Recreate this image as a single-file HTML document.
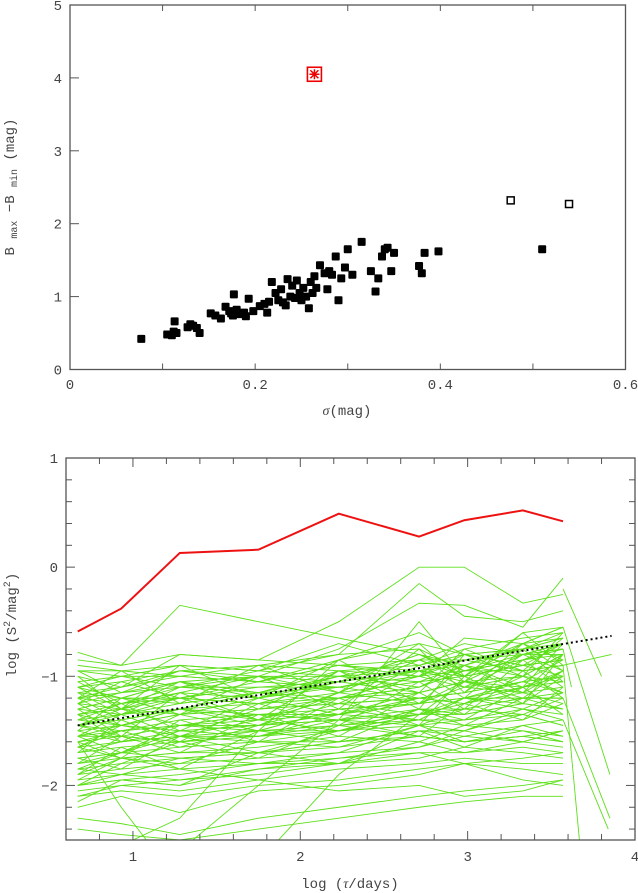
<!DOCTYPE html>
<html><head><meta charset="utf-8"><style>
html,body{margin:0;padding:0;background:#fff;}
svg{display:block;font-family:"Liberation Mono","DejaVu Sans Mono",monospace;}
text{fill:#444;font-size:14px;}
</style></head><body>
<svg id="fig" width="638" height="893" viewBox="0 0 638 893">
<g id="topPanel"></g>
<g id="botPanel"></g>
</svg>
<script>
const sigmaVals = [0.077,0.105,0.110,0.112,0.113,0.115,0.127,0.130,0.133,0.137,0.140,0.152,0.157,0.163,0.168,0.172,0.174,0.176,0.177,0.180,0.183,0.188,0.190,0.193,0.198,0.205,0.210,0.213,0.215,0.218,0.222,0.225,0.228,0.230,0.233,0.235,0.238,0.240,0.243,0.245,0.248,0.250,0.252,0.255,0.258,0.260,0.262,0.264,0.266,0.270,0.275,0.278,0.280,0.283,0.287,0.290,0.293,0.297,0.300,0.305,0.315,0.325,0.330,0.333,0.337,0.340,0.343,0.347,0.350,0.377,0.380,0.383,0.398,0.510];
const rangeVals = [0.42,0.48,0.47,0.52,0.66,0.50,0.58,0.62,0.60,0.57,0.50,0.77,0.74,0.70,0.86,0.80,0.77,0.74,1.03,0.82,0.76,0.78,0.73,0.97,0.80,0.87,0.90,0.78,0.93,1.20,1.05,0.95,1.10,0.92,0.88,1.24,1.00,1.15,0.98,1.22,1.05,0.95,1.12,1.00,0.84,1.20,1.05,1.28,1.12,1.43,1.32,1.10,1.35,1.30,1.55,0.95,1.25,1.40,1.65,1.30,1.75,1.35,1.07,1.25,1.55,1.65,1.67,1.35,1.60,1.42,1.32,1.60,1.62,1.65];
const openSigma = [0.476,0.539];
const openRange = [2.32,2.27];
const redSigma = [0.264];
const redRange = [4.05];
const topXTicks = [0,0.2,0.4,0.6];
const topXLabels = ["0","0.2","0.4","0.6"];
const topYTicks = [0,1,2,3,4,5];

const tauNodes = [0.67,0.93,1.28,1.75,2.23,2.71,2.98,3.33,3.57];
const redSF = [-0.59,-0.38,0.13,0.16,0.49,0.28,0.43,0.52,0.42];
const greenSF = [
[-0.78,-0.9,-0.35,-0.5,-0.65,-0.8,-0.9,-0.75,-0.6],
[-1.0,-1.1,-0.8,-0.85,-0.5,0.0,0.0,-0.33,-0.25],
[-1.2,-1.1,-0.95,-0.9,-0.8,-0.15,-0.45,-0.5,-0.4],
[-1.3,-1.2,-1.05,-1.0,-0.75,-0.33,-0.35,-0.55,-0.1],
[-0.85,-0.9,-0.8,-0.85,-0.9,-0.85,-0.85,-0.8,-0.7],
[-0.95,-0.95,-0.9,-0.95,-0.8,-0.75,-0.95,-0.85,-0.75],
[-1.05,-1.0,-1.0,-0.9,-0.95,-0.9,-0.8,-0.75,-0.65],
[-1.1,-1.05,-0.95,-1.0,-1.0,-0.85,-0.7,-0.8,-0.8],
[-1.15,-1.1,-1.0,-1.05,-0.9,-0.95,-0.9,-0.7,-0.55],
[-1.2,-1.15,-1.1,-1.0,-1.05,-0.8,-1.0,-0.9,-0.85],
[-1.25,-1.3,-1.05,-1.15,-1.0,-1.1,-0.95,-0.85,-0.7],
[-1.3,-1.2,-1.2,-1.1,-1.1,-1.0,-0.85,-0.95,-0.9],
[-1.35,-1.3,-1.15,-1.2,-1.05,-1.15,-1.05,-0.8,-0.95],
[-1.4,-1.35,-1.25,-1.15,-1.2,-1.0,-1.1,-1.0,-0.8],
[-1.45,-1.4,-1.3,-1.25,-1.15,-1.05,-1.0,-0.9,-1.0],
[-1.5,-1.45,-1.35,-1.3,-1.25,-1.2,-1.15,-1.05,-0.85],
[-1.55,-1.5,-1.4,-1.35,-1.3,-1.25,-1.1,-1.15,-1.1],
[-1.6,-1.55,-1.45,-1.4,-1.35,-1.2,-1.25,-1.1,-1.05],
[-1.65,-1.6,-1.5,-1.45,-1.4,-1.35,-1.3,-1.2,-1.2],
[-1.4,-1.45,-1.5,-1.45,-1.4,-1.3,-1.35,-1.25,-1.3],
[-1.3,-1.35,-1.3,-1.35,-1.35,-1.25,-1.2,-1.2,-1.15],
[-1.2,-1.25,-1.2,-1.25,-1.2,-1.15,-1.05,-1.1,-0.95],
[-1.5,-1.6,-1.55,-1.5,-1.45,-1.4,-1.4,-1.3,-1.35],
[-1.7,-1.65,-1.6,-1.55,-1.5,-1.45,-1.4,-1.35,-1.45],
[-1.75,-1.7,-1.65,-1.6,-1.6,-1.5,-1.55,-1.45,-1.4],
[-1.8,-1.75,-1.7,-1.65,-1.55,-1.6,-1.45,-1.5,-1.55],
[-1.85,-1.8,-1.75,-1.7,-1.65,-1.55,-1.6,-1.55,-1.6],
[-1.9,-1.85,-1.8,-1.75,-1.7,-1.65,-1.5,-1.6,-1.5],
[-1.95,-1.9,-1.85,-1.8,-1.75,-1.7,-1.7,-1.65,-1.7],
[-2.0,-1.95,-1.9,-1.8,-1.8,-1.75,-1.65,-1.7,-1.75],
[-2.05,-2.0,-2.05,-1.95,-1.85,-1.8,-1.75,-1.8,-1.8],
[-2.1,-2.05,-2.1,-2.0,-1.95,-1.85,-1.8,-1.85,-1.9],
[-2.2,-2.1,-2.25,-2.05,-2.0,-1.9,-1.8,-1.95,-2.0],
[-2.3,-2.35,-2.45,-2.3,-2.2,-2.1,-2.05,-2.0,-1.95],
[-1.65,-1.75,-1.85,-1.95,-2.05,-2.0,-2.1,-2.05,-1.95],
[-1.0,-1.3,-1.45,-1.35,-1.4,-1.55,-1.6,-1.55,-1.5],
[-0.9,-0.95,-1.0,-1.05,-1.1,-1.2,-1.15,-1.05,-1.0],
[-1.1,-1.0,-0.9,-0.95,-0.7,-0.9,-0.75,-0.65,-0.6],
[-1.25,-1.15,-0.95,-1.05,-0.85,-0.6,-0.8,-0.75,-0.7],
[-1.35,-1.25,-1.1,-1.15,-0.95,-1.0,-0.65,-0.7,-0.55],
[-1.45,-1.35,-1.2,-1.25,-1.05,-0.95,-1.05,-0.8,-0.75],
[-1.55,-1.45,-1.3,-1.4,-1.2,-1.1,-0.95,-0.95,-0.9],
[-1.6,-1.5,-1.45,-1.5,-1.3,-1.25,-1.2,-1.05,-1.15],
[-1.7,-1.6,-1.55,-1.55,-1.45,-1.35,-1.35,-1.25,-1.3],
[-1.8,-1.7,-1.55,-1.6,-1.5,-1.4,-1.45,-1.4,-1.25],
[-1.9,-1.75,-1.7,-1.7,-1.6,-1.5,-1.5,-1.35,-1.45],
[-2.0,-1.9,-1.75,-1.8,-1.7,-1.45,-1.6,-1.55,-1.6],
[-2.1,-2.0,-1.95,-1.85,-1.75,-1.65,-1.55,-1.6,-1.5],
[-2.4,-2.45,-2.5,-2.4,-2.3,-2.2,-2.15,-2.1,-2.1],
[-2.7,-2.55,-2.3,-1.5,-0.85,-0.7,-0.8,-0.9,-0.85],
[-2.9,-2.6,-2.6,-2.0,-1.4,-0.5,-1.0,-0.6,-0.55],
[-1.6,-2.2,-2.9,-2.7,-1.9,-1.35,-1.2,-1.1,-1.0],
[-1.35,-1.3,-1.35,-1.3,-1.25,-1.2,-1.15,-0.8,-0.75],
[-1.15,-1.2,-1.25,-1.15,-1.1,-1.0,-0.95,-0.85,-0.8],
[-0.95,-1.0,-1.1,-0.95,-1.0,-0.95,-1.0,-0.9,-0.85],
[-1.45,-1.5,-1.45,-1.45,-1.35,-1.15,-1.05,-1.0,-1.15],
[-1.55,-1.55,-1.6,-1.5,-1.5,-1.3,-1.3,-1.2,-1.2],
[-1.75,-1.7,-1.75,-1.7,-1.6,-1.55,-1.6,-1.5,-1.6],
[-2.0,-1.95,-2.0,-1.85,-1.8,-1.6,-1.7,-1.6,-1.65],
[-1.85,-1.9,-1.95,-1.9,-1.8,-1.7,-1.8,-1.75,-1.7],
[-1.1,-1.3,-0.9,-1.2,-0.85,-1.25,-0.9,-1.1,-0.7],
[-1.5,-1.2,-1.35,-1.0,-1.3,-0.75,-1.15,-0.7,-0.95],
[-1.3,-1.55,-1.15,-1.4,-0.95,-1.3,-0.8,-1.0,-0.6],
[-1.7,-1.4,-1.6,-1.25,-1.45,-1.05,-1.3,-0.85,-1.1],
[-1.2,-0.95,-1.25,-0.9,-1.15,-0.7,-1.05,-0.6,-0.9],
[-1.6,-1.75,-1.4,-1.6,-1.2,-1.45,-1.0,-1.25,-0.8],
[-1.4,-1.25,-1.5,-1.2,-1.35,-0.95,-1.2,-0.75,-1.05],
[-1.8,-1.55,-1.7,-1.35,-1.55,-1.15,-1.35,-0.95,-1.2],
[-1.1,-1.2,-1.05,-1.3,-0.95,-1.15,-0.75,-0.95,-0.65],
[-1.25,-1.45,-1.3,-1.15,-1.25,-0.9,-1.1,-0.85,-0.75],
[-1.55,-1.35,-1.55,-1.3,-1.2,-1.1,-0.9,-1.15,-0.8],
[-1.9,-1.65,-1.85,-1.5,-1.6,-1.3,-1.45,-1.2,-1.3],
[-2.0,-1.8,-1.6,-1.75,-1.45,-1.55,-1.25,-1.4,-1.1],
[-1.35,-1.6,-1.35,-1.5,-1.3,-1.4,-1.2,-1.3,-1.15],
[-0.95,-1.15,-1.05,-1.2,-1.0,-1.05,-0.9,-1.0,-0.8],
[-1.45,-1.3,-1.2,-1.4,-1.15,-0.85,-1.0,-0.7,-0.65],
[-1.65,-1.5,-1.65,-1.45,-1.25,-1.35,-1.05,-1.2,-0.95],
[-1.75,-1.85,-1.55,-1.7,-1.5,-1.3,-1.4,-1.1,-1.35],
[-2.15,-1.95,-2.0,-1.7,-1.8,-1.5,-1.65,-1.45,-1.55],
[-1.25,-1.05,-1.2,-1.05,-0.9,-1.0,-0.8,-0.9,-0.7],
[-1.05,-1.25,-1.15,-1.0,-1.15,-0.85,-1.0,-0.7,-0.85],
[-1.55,-1.7,-1.45,-1.35,-1.4,-1.2,-1.25,-1.0,-1.05],
[-1.45,-1.55,-1.6,-1.55,-1.4,-1.45,-1.3,-1.35,-1.2],
[-1.85,-1.7,-1.5,-1.55,-1.35,-1.4,-1.2,-1.25,-1.0],
[-1.2,-1.4,-1.3,-1.45,-1.15,-1.25,-1.05,-1.15,-0.95],
[-1.65,-1.45,-1.35,-1.2,-1.1,-0.95,-0.85,-0.75,-0.65],
[-1.35,-1.45,-1.55,-1.4,-1.5,-1.35,-1.25,-1.15,-1.25],
[-1.95,-1.75,-1.8,-1.6,-1.65,-1.45,-1.5,-1.3,-1.4],
[-1.15,-1.35,-1.1,-1.1,-1.05,-0.8,-0.95,-0.8,-0.7]
];
const tailX = [3.62,3.68,3.85,3.85,3.86,3.84,3.80];
const tailY0 = [-0.75,-0.9,-1.2,-0.55,-0.9,-1.4,-0.2];
const tailY1 = [-1.1,-2.7,-2.3,-1.9,-0.8,-2.4,-1.0];
const trendTau = [0.67,3.86];
const trendSF = [-1.45,-0.63];
const botXTicks = [1,2,3,4];
const botYTicks = [1,0,-1,-2];

const NS="http://www.w3.org/2000/svg";
function mk(tag,attrs,parent){const e=document.createElementNS(NS,tag);for(const k in attrs)e.setAttribute(k,attrs[k]);parent.appendChild(e);return e;}

const T={x0:70,x1:625.5,y0:369.5,y1:5,xmin:0,xmax:0.6,ymin:0,ymax:5};
function tx(v){return T.x0+(v-T.xmin)/(T.xmax-T.xmin)*(T.x1-T.x0);}
function ty(v){return T.y0-(v-T.ymin)/(T.ymax-T.ymin)*(T.y0-T.y1);}
const topG=document.getElementById('topPanel');
let r=mk('rect',{x:T.x0,y:T.y1,width:T.x1-T.x0,height:T.y0-T.y1,fill:'none',stroke:'#555','stroke-width':1.3},topG);


for(let i=1;i<6;i++){const x=tx(i*0.1);
 let a=mk('line',{x1:x,x2:x,y1:T.y1,y2:T.y1+6,stroke:'#555'},topG);
 
 
 let b=mk('line',{x1:x,x2:x,y1:T.y0,y2:T.y0-6,stroke:'#555'},topG);
 
 }
topXTicks.forEach((v,i)=>{let t=mk('text',{x:tx(v),y:389,'text-anchor':'middle'},topG);t.textContent=topXLabels[i];
 
 });
topYTicks.forEach(v=>{const y=ty(v);
 let a=mk('line',{x1:T.x0,x2:T.x0+9,y1:y,y2:y,stroke:'#555'},topG);
 
 
 let t=mk('text',{x:62,y:y+5,'text-anchor':'end'},topG);t.textContent=String(v);
 
 });
let xl=mk('text',{x:347,y:415,'text-anchor':'middle'},topG);
xl.innerHTML='<tspan font-family="Liberation Serif" font-style="italic">σ</tspan>(mag)';


let yl=mk('text',{transform:'translate(14,187) rotate(-90)','text-anchor':'middle'},topG);
yl.innerHTML='B <tspan font-size="10" dy="3">max</tspan><tspan dy="-3"> −B </tspan><tspan font-size="10" dy="3">min</tspan><tspan dy="-3">  (mag)</tspan>';


sigmaVals.forEach((s,i)=>{let p=mk('rect',{x:tx(s)-4,y:ty(rangeVals[i])-4,width:8,height:8,rx:1,fill:'#000'},topG);
 
 });
openSigma.forEach((s,i)=>{let p=mk('rect',{x:tx(s)-3.5,y:ty(openRange[i])-3.5,width:7,height:7,fill:'#fff',stroke:'#000','stroke-width':1.5},topG);
 
 });
redSigma.forEach((s,i)=>{const cx=tx(s),cy=ty(redRange[i]);
 let g=mk('g',{},topG);
 
 
 mk('rect',{x:cx-7,y:cy-7,width:14,height:14,fill:'#fff',stroke:'#e00','stroke-width':1.6},g);
 [[0,-5,0,5],[-5,0,5,0],[-4,-4,4,4],[-4,4,4,-4]].forEach(d=>mk('line',{x1:cx+d[0],y1:cy+d[1],x2:cx+d[2],y2:cy+d[3],stroke:'#e00','stroke-width':1.5},g));});

const B={x0:66,x1:635,y0:840,y1:458,xmin:0.6,xmax:4.0,ymin:-2.5,ymax:1};
function bx(v){return B.x0+(v-B.xmin)/(B.xmax-B.xmin)*(B.x1-B.x0);}
function by(v){return B.y0-(v-B.ymin)/(B.ymax-B.ymin)*(B.y0-B.y1);}
const botG=document.getElementById('botPanel');
const defs=mk('defs',{},botG);
const cp=mk('clipPath',{id:'bclip'},defs);
mk('rect',{x:B.x0,y:B.y1,width:B.x1-B.x0,height:B.y0-B.y1},cp);
const curves=mk('g',{'clip-path':'url(#bclip)'},botG);


greenSF.forEach(arr=>{const pts=arr.map((v,i)=>bx(tauNodes[i])+','+by(v)).join(' ');
 let p=mk('polyline',{points:pts,fill:'none',stroke:'#5de01a','stroke-width':0.9},curves);
 
 });
tailX.forEach((x,i)=>{let p=mk('line',{x1:bx(tauNodes[8]),y1:by(tailY0[i]),x2:bx(x),y2:by(tailY1[i]),stroke:'#5de01a','stroke-width':0.9},curves);
 
 });
let red=mk('polyline',{points:redSF.map((v,i)=>bx(tauNodes[i])+','+by(v)).join(' '),fill:'none',stroke:'#ee1111','stroke-width':2},botG);


let tr=mk('line',{x1:bx(trendTau[0]),y1:by(trendSF[0]),x2:bx(trendTau[1]),y2:by(trendSF[1]),stroke:'#000','stroke-width':2,'stroke-dasharray':'2 3'},botG);


let br=mk('rect',{x:B.x0,y:B.y1,width:B.x1-B.x0,height:B.y0-B.y1,fill:'none',stroke:'#555','stroke-width':1.3},botG);


for(let k=4;k<20;k++){const v=k*0.2;if(v<=B.xmin+0.01||v>=B.xmax-0.01)continue;const x=bx(v);const L=(k%5===0)?9:6;
 let a=mk('line',{x1:x,x2:x,y1:B.y1,y2:B.y1+L,stroke:'#555'},botG);
 
 
 let b=mk('line',{x1:x,x2:x,y1:B.y0,y2:B.y0-L,stroke:'#555'},botG);
 
 }
for(let k=-12;k<5;k++){const v=k*0.2;const y=by(v);const L=(k%5===0)?9:6;
 let a=mk('line',{x1:B.x0,x2:B.x0+L,y1:y,y2:y,stroke:'#555'},botG);
 
 
 let b=mk('line',{x1:B.x1,x2:B.x1-L,y1:y,y2:y,stroke:'#555'},botG);
 
 }
botXTicks.forEach(v=>{let t=mk('text',{x:bx(v),y:861,'text-anchor':'middle'},botG);t.textContent=String(v);
 
 });
botYTicks.forEach(v=>{let t=mk('text',{x:58,y:by(v)+5,'text-anchor':'end'},botG);t.textContent=v<0?'\u2212'+Math.abs(v):String(v);
 
 });
let bxl=mk('text',{x:350,y:888,'text-anchor':'middle'},botG);
bxl.innerHTML='log (<tspan font-family="Liberation Serif" font-style="italic">τ</tspan>/days)';


let byl=mk('text',{transform:'translate(16,625) rotate(-90)','text-anchor':'middle'},botG);
byl.innerHTML='log (S<tspan font-size="10" dy="-6">2</tspan><tspan dy="6">/mag</tspan><tspan font-size="10" dy="-6">2</tspan><tspan dy="6">)</tspan>';


</script>
</body></html>
